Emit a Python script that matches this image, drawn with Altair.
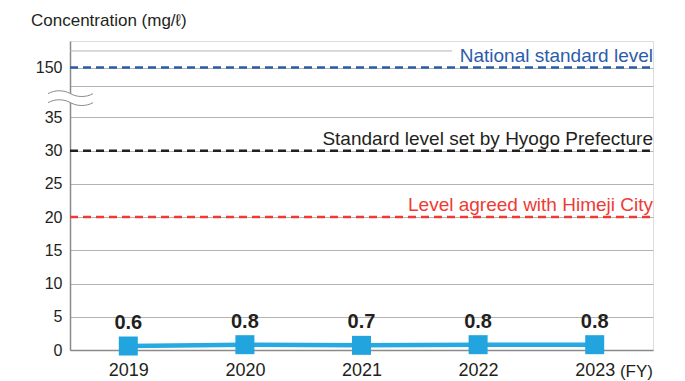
import altair as alt
import pandas as pd

# Annual concentration, fiscal years
years = ["2019", "2020", "2021", "2022", "2023"]
values = [0.6, 0.8, 0.7, 0.8, 0.8]

# Regulatory levels (mg/l)
level_names = ["National standard level",
               "Standard level set by Hyogo Prefecture",
               "Level agreed with Himeji City"]
level_values = [150, 30, 20]
level_colors = ["#2c5ca9", "#231f20", "#ee3b35"]

# Y ticks below the axis break
y_ticks = [0, 5, 10, 15, 20, 25, 30, 35]

FONT = "Liberation Sans"
INK = "#231f20"
GRID = "#b4b4b4"
BLUE = "#27a9e1"
AXIS = "#8a8a8a"

# Broken axis: everything above 35 is compressed into the band above the break
BREAK_GRID = 39.75
HIGH_POS = 42.5
TOP_GRID = 45
Y_MAX = 46.5
BREAK_POS = 37.9

data = pd.DataFrame({"year": years, "value": values})
levels = pd.DataFrame({"name": level_names, "level": level_values})

W, H = 583, 309

y_scale = alt.Scale(domain=[0, Y_MAX], nice=False, zero=True)
x_scale = alt.Scale(type="point", domain=years, padding=0.5)

y_axis = alt.Axis(title=None, ticks=False,
                  values=y_ticks + [BREAK_GRID, HIGH_POS],
                  labelExpr=f"datum.value == {HIGH_POS} ? '150' : (datum.value > 35 ? '' : datum.label)",
                  labelOverlap=False, labelFont=FONT, labelFontSize=16,
                  labelColor=INK, labelPadding=8, grid=True, gridColor=GRID,
                  gridWidth=1, domainColor=AXIS, domainWidth=1.5)
x_axis = alt.Axis(title=None, ticks=False, labelAngle=0, labelFont=FONT,
                  labelFontSize=18, labelColor=INK, labelPadding=11,
                  domainColor=AXIS, domainWidth=1.5, grid=False)

Y = lambda field: alt.Y(field, scale=y_scale, axis=y_axis)
X = lambda field: alt.X(field, scale=x_scale, axis=x_axis)

base = alt.Chart(data)

line = base.mark_line(color=BLUE, strokeWidth=4.5).encode(
    x=X("year:O"), y=Y("value:Q"))

squares = base.mark_point(shape="square", filled=True, opacity=1, size=361,
                          color="#22a5de").encode(
    x=X("year:O"), y=Y("value:Q"))

value_labels = base.mark_text(font=FONT, fontSize=20, fontWeight="bold",
                              color=INK, dy=-23, baseline="middle").encode(
    x=X("year:O"), y=Y("value:Q"),
    text=alt.Text("value:Q", format=".1f"),
)

level_base = alt.Chart(levels).transform_calculate(
    pos=f"datum.level > 35 ? {HIGH_POS} : datum.level"
)
color_scale = alt.Scale(domain=level_names, range=level_colors)

level_rules = level_base.mark_rule(strokeWidth=2.5, strokeDash=[8, 5]).encode(
    y=Y("pos:Q"),
    x=alt.value(0), x2=alt.value(W),
    color=alt.Color("name:N", scale=color_scale, legend=None),
)

level_text = level_base.mark_text(font=FONT, fontSize=19, align="right",
                                  baseline="alphabetic", dy=-6).encode(
    y=Y("pos:Q"),
    x=alt.value(W),
    text="name:N",
    color=alt.Color("name:N", scale=color_scale, legend=None),
)

# Topmost gridline stops short of the national level label
top_grid = alt.Chart(pd.DataFrame({"g": [TOP_GRID]})).mark_rule(
    color=GRID, strokeWidth=1).encode(
    y=Y("g:Q"), x=alt.value(0), x2=alt.value(382))

# Axis break symbol: white patch plus two wavy strokes
wave_fill = ("M-1,-0.2 C-0.7,-0.37 -0.3,-0.37 0,-0.2 C0.3,-0.03 0.7,-0.03 1,-0.2 "
             "L1,0.2 C0.7,0.37 0.3,0.37 0,0.2 C-0.3,0.03 -0.7,0.03 -1,0.2 Z")
wave_lines = ("M-1,-0.2 C-0.7,-0.37 -0.3,-0.37 0,-0.2 C0.3,-0.03 0.7,-0.03 1,-0.2 "
              "M-1,0.2 C-0.7,0.03 -0.3,0.03 0,0.2 C0.3,0.37 0.7,0.37 1,0.2")
brk = alt.Chart(pd.DataFrame({"b": [BREAK_POS]}))
break_patch = brk.mark_point(shape=wave_fill, filled=True, fill="white",
                             opacity=1, strokeWidth=0, size=2025).encode(
    y=Y("b:Q"), x=alt.value(0.5))
break_waves = brk.mark_point(shape=wave_lines, filled=False, stroke=AXIS,
                             strokeWidth=1, opacity=1, size=2025).encode(
    y=Y("b:Q"), x=alt.value(0.5))

title = alt.Chart(pd.DataFrame({"t": ["Concentration (mg/ℓ)"]})).mark_text(
    font=FONT, fontSize=17, color=INK, align="left", baseline="middle").encode(
    x=alt.value(-39), y=alt.value(-20), text="t:N")

fy = alt.Chart(pd.DataFrame({"t": ["(FY)"]})).mark_text(
    font=FONT, fontSize=17, color=INK, align="right", baseline="middle").encode(
    x=alt.value(W), y=alt.value(H + 22), text="t:N")

chart = alt.layer(
    line, top_grid, level_rules, level_text, squares, value_labels,
    break_patch, break_waves, title, fy
).properties(
    width=W, height=H,
    padding={"left": 70, "top": 41, "right": 32, "bottom": 31},
    autosize=alt.AutoSizeParams(type="none"),
).configure_view(stroke=None).configure(background="white")

chart.save("out.html", embed_options={"renderer": "svg", "actions": False})
